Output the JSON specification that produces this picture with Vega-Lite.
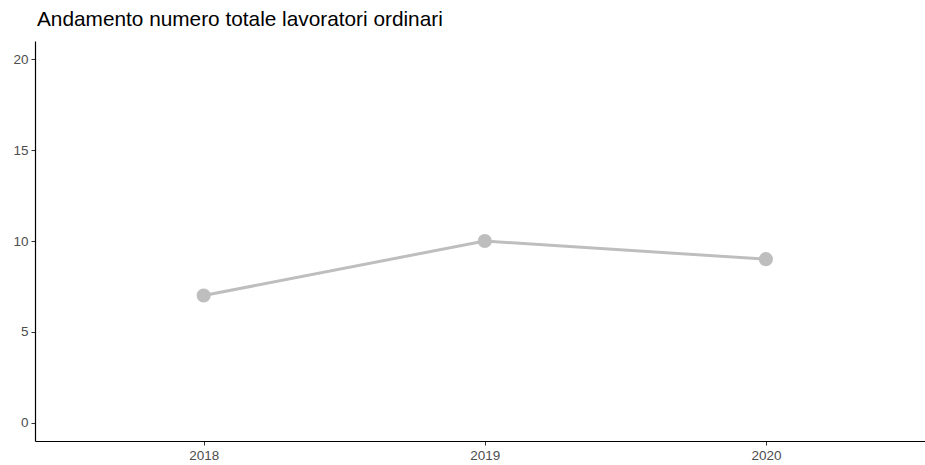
{
  "$schema": "https://vega.github.io/schema/vega-lite/v6.json",
  "width": 890,
  "height": 400,
  "autosize": {"type": "none"},
  "padding": {"left": 35, "top": 41, "right": 0, "bottom": 24},
  "background": "white",
  "title": {
    "text": "Andamento numero totale lavoratori ordinari",
    "anchor": "start",
    "frame": "group",
    "font": "Liberation Sans",
    "fontSize": 20.8,
    "fontWeight": "normal",
    "color": "black",
    "baseline": "alphabetic",
    "offset": -6,
    "dx": 2
  },
  "config": {
    "view": {"stroke": null},
    "axis": {
      "grid": false,
      "labelFont": "Liberation Sans",
      "labelFontSize": 13.5,
      "labelColor": "#4d4d4d",
      "tickColor": "#333333",
      "tickSize": 4,
      "domainColor": "black",
      "domainWidth": 1.2,
      "title": null
    }
  },
  "data": {
    "values": [
      {"anno": 2018, "n": 7},
      {"anno": 2019, "n": 10},
      {"anno": 2020, "n": 9}
    ]
  },
  "encoding": {
    "x": {
      "field": "anno",
      "type": "quantitative",
      "scale": {"domain": [2017.4, 2020.566], "nice": false, "zero": false},
      "axis": {"values": [2018, 2019, 2020], "format": "d", "labelPadding": 3}
    },
    "y": {
      "field": "n",
      "type": "quantitative",
      "scale": {"domain": [-1, 21], "nice": false},
      "axis": {"values": [0, 5, 10, 15, 20], "labelPadding": 3}
    }
  },
  "layer": [
    {"mark": {"type": "line", "color": "#BEBEBE", "strokeWidth": 3}},
    {"mark": {"type": "circle", "color": "#BEBEBE", "opacity": 1, "size": 200}}
  ]
}
